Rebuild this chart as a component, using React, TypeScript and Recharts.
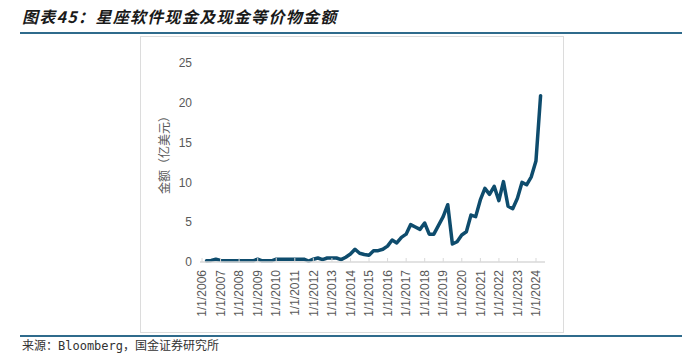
import React from 'react';
import { LineChart, Line, XAxis, YAxis } from 'recharts';

const quarterEnds: string[] = [
  '2006-03-31', '2006-06-30', '2006-09-30', '2006-12-31',
  '2007-03-31', '2007-06-30', '2007-09-30', '2007-12-31',
  '2008-03-31', '2008-06-30', '2008-09-30', '2008-12-31',
  '2009-03-31', '2009-06-30', '2009-09-30', '2009-12-31',
  '2010-03-31', '2010-06-30', '2010-09-30', '2010-12-31',
  '2011-03-31', '2011-06-30', '2011-09-30', '2011-12-31',
  '2012-03-31', '2012-06-30', '2012-09-30', '2012-12-31',
  '2013-03-31', '2013-06-30', '2013-09-30', '2013-12-31',
  '2014-03-31', '2014-06-30', '2014-09-30', '2014-12-31',
  '2015-03-31', '2015-06-30', '2015-09-30', '2015-12-31',
  '2016-03-31', '2016-06-30', '2016-09-30', '2016-12-31',
  '2017-03-31', '2017-06-30', '2017-09-30', '2017-12-31',
  '2018-03-31', '2018-06-30', '2018-09-30', '2018-12-31',
  '2019-03-31', '2019-06-30', '2019-09-30', '2019-12-31',
  '2020-03-31', '2020-06-30', '2020-09-30', '2020-12-31',
  '2021-03-31', '2021-06-30', '2021-09-30', '2021-12-31',
  '2022-03-31', '2022-06-30', '2022-09-30', '2022-12-31',
  '2023-03-31', '2023-06-30', '2023-09-30', '2023-12-31',
  '2024-03-31',
];

const cashValues: number[] = [
  0.15, 0.2, 0.35, 0.2,
  0.15, 0.15, 0.15, 0.15,
  0.15, 0.15, 0.15, 0.35,
  0.15, 0.15, 0.15, 0.35,
  0.35, 0.35, 0.35, 0.35,
  0.35, 0.35, 0.12, 0.35,
  0.5, 0.3, 0.5, 0.5,
  0.5, 0.3, 0.6, 1.0,
  1.6, 1.1, 0.95, 0.85,
  1.4, 1.42, 1.6, 2.0,
  2.76, 2.4, 3.1, 3.5,
  4.7, 4.4, 4.1, 4.9,
  3.5, 3.5, 4.6, 5.7,
  7.2, 2.26, 2.55, 3.4,
  3.8, 5.9, 5.7, 7.8,
  9.25, 8.5, 9.5, 7.7,
  10.1, 7.0, 6.7, 8.0,
  10.0, 9.7, 10.7, 12.7,
  20.9,
];

const xTickLabels: string[] = [
  '1/1/2006', '1/1/2007', '1/1/2008', '1/1/2009', '1/1/2010', '1/1/2011', '1/1/2012',
  '1/1/2013', '1/1/2014', '1/1/2015', '1/1/2016', '1/1/2017', '1/1/2018', '1/1/2019',
  '1/1/2020', '1/1/2021', '1/1/2022', '1/1/2023', '1/1/2024',
];

const yTicks: number[] = [0, 5, 10, 15, 20, 25];

const labelToTime = (s: string) => {
  const [m, d, y] = s.split('/').map(Number);
  return Date.UTC(y, m - 1, d);
};

const xTickValues = xTickLabels.map(labelToTime);
const tickLabelByTime: Record<number, string> = {};
xTickLabels.forEach((l) => {
  tickLabelByTime[labelToTime(l)] = l;
});

const data = quarterEnds.map((d, i) => ({ t: Date.parse(d), v: cashValues[i] }));

const xDomain: [number, number] = [Date.UTC(2005, 10, 22), Date.UTC(2024, 5, 26)];

const AXIS_FONT = '"Liberation Sans", Arial, sans-serif';
const CJK_FONT = '"Noto Sans CJK SC", sans-serif';

const XTick = (props: any) => {
  const { x, y, payload } = props;
  const axisY = y - 8;
  return (
    <g>
      <line x1={x} x2={x} y1={axisY - 4} y2={axisY} stroke="#d9d9d9" strokeWidth={1} />
      <text
        x={x}
        y={y}
        dy="0.35em"
        transform={`rotate(-90 ${x} ${y})`}
        textAnchor="end"
        fill="#595959"
        fontSize={12}
        fontFamily={AXIS_FONT}
      >
        {tickLabelByTime[payload.value] ?? ''}
      </text>
    </g>
  );
};

export default function App() {
  return (
    <div style={{ position: 'absolute', left: 0, top: 0, width: 692, height: 355, background: '#fff', overflow: 'hidden' }}>
      <div
        style={{
          position: 'absolute',
          left: 22,
          top: 6,
          fontFamily: CJK_FONT,
          fontSize: 16,
          lineHeight: '20px',
          fontWeight: 700,
          fontStyle: 'italic',
          letterSpacing: 1.3,
          color: '#1a1a1a',
          whiteSpace: 'nowrap',
        }}
      >
        图表45：星座软件现金及现金等价物金额
      </div>
      <div style={{ position: 'absolute', left: 20, top: 32, width: 662, height: 2, background: '#2f6b8c' }} />
      <div
        style={{
          position: 'absolute',
          left: 140,
          top: 36,
          width: 422,
          height: 295,
          border: '1px solid #dcdcdc',
        }}
      />
      <div style={{ position: 'absolute', left: 20, top: 335, width: 662, height: 1.5, background: '#2f6b8c' }} />
      <div
        style={{
          position: 'absolute',
          left: 22,
          top: 339,
          fontFamily: '"DejaVu Sans Mono", "Noto Sans CJK SC", monospace',
          fontSize: 12,
          lineHeight: '14px',
          color: '#333',
          whiteSpace: 'nowrap',
        }}
      >
        来源：Bloomberg，国金证券研究所
      </div>
      <svg style={{ position: 'absolute', left: 0, top: 0 }} width={692} height={355}>
        <text
          x={163}
          y={152}
          transform="rotate(-90 163 152)"
          textAnchor="middle"
          dominantBaseline="central"
          fill="#595959"
          fontSize={12}
          fontFamily={CJK_FONT}
        >
          金额（亿美元）
        </text>
      </svg>
      <div style={{ position: 'absolute', left: 0, top: 0 }}>
        <LineChart width={692} height={355} data={data} margin={{ top: 63, right: 147, bottom: 23, left: 140 }}>
          <XAxis
            dataKey="t"
            type="number"
            domain={xDomain}
            allowDataOverflow
            ticks={xTickValues}
            interval={0}
            height={70}
            axisLine={{ stroke: '#d9d9d9', strokeWidth: 1.5 }}
            tickLine={false}
            tick={<XTick />}
          />
          <YAxis
            type="number"
            domain={[0, 25]}
            ticks={yTicks}
            interval={0}
            width={60}
            axisLine={false}
            tickLine={false}
            tick={{ fill: '#595959', fontSize: 12, fontFamily: AXIS_FONT }}
          />
          <Line
            type="linear"
            dataKey="v"
            stroke="#0e4c6d"
            strokeWidth={3.5}
            strokeLinejoin="round"
            strokeLinecap="round"
            dot={false}
            isAnimationActive={false}
          />
        </LineChart>
      </div>
    </div>
  );
}
